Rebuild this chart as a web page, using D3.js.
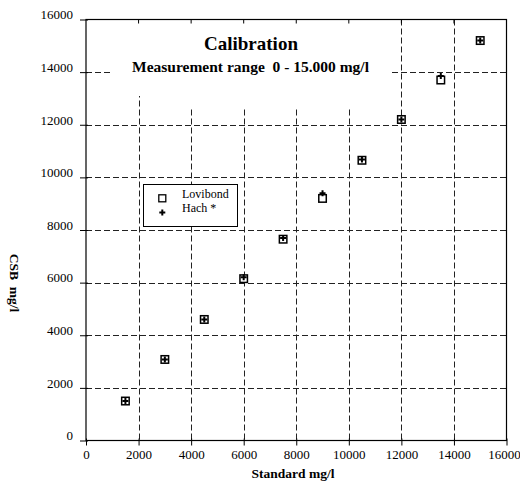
<!DOCTYPE html>
<html>
<head>
<meta charset="utf-8">
<script src="https://cdn.jsdelivr.net/npm/d3@7"></script>
<style>
  html, body { margin: 0; padding: 0; background: #fff; }
  svg { display: block; }
</style>
</head>
<body>
<svg id="chart" width="520" height="484"></svg>
<script>
// Calibration data: standard concentration vs. measured CSB (mg/l)
const standard = [1500, 3000, 4500, 6000, 7500, 9000, 10500, 12000, 13500, 15000];
const lovibond = [1500, 3080, 4600, 6150, 7650, 9200, 10650, 12200, 13700, 15200];
const hach     = [1500, 3080, 4600, 6200, 7700, 9400, 10680, 12200, 13850, 15200];
const xTicks = [0, 2000, 4000, 6000, 8000, 10000, 12000, 14000, 16000];
const yTicks = [0, 2000, 4000, 6000, 8000, 10000, 12000, 14000, 16000];
const gridValues = [2000, 4000, 6000, 8000, 10000, 12000, 14000];
const seriesNames = ["Lovibond", "Hach *"];
const titleText = "Calibration";
const subtitleText = "Measurement range  0 - 15.000 mg/l";
const xTitle = "Standard mg/l";
const yTitle = "CSB  mg/l";

const FONT = "'Liberation Serif'";
const svg = d3.select("#chart");
const plotL = 86, plotR = 506.5, plotT = 19.5, plotB = 440.5;

const x = d3.scaleLinear().domain([0, 16000]).range([plotL, plotR]);
const y = d3.scaleLinear().domain([0, 16000]).range([plotB, plotT]);

function serif(sel, size, weight) {
  return sel.style("font-family", FONT).style("font-size", size + "px")
    .style("font-weight", weight || "normal").style("white-space", "pre")
    .attr("fill", "#000");
}

// dashed grid
const grid = svg.append("g").attr("stroke", "#222").attr("stroke-width", 1)
  .attr("stroke-dasharray", "6,3");
grid.selectAll("line.v").data(gridValues).join("line").attr("class", "v")
  .attr("x1", d => Math.round(x(d)) + 0.5).attr("x2", d => Math.round(x(d)) + 0.5)
  .attr("y1", plotT).attr("y2", plotB);
grid.selectAll("line.h").data(gridValues).join("line").attr("class", "h")
  .attr("y1", d => Math.round(y(d)) + 0.5).attr("y2", d => Math.round(y(d)) + 0.5)
  .attr("x1", plotL).attr("x2", plotR);

// white panel behind the title
svg.append("path")
  .attr("d", "M112,20 L392,20 L392,107 L150,107 L150,96 L112,96 Z")
  .attr("fill", "#fff");

// frame
svg.append("rect")
  .attr("x", plotL).attr("y", plotT)
  .attr("width", plotR - plotL).attr("height", plotB - plotT)
  .attr("fill", "none").attr("stroke", "#000").attr("stroke-width", 1.2);

// axes
const xAxis = d3.axisBottom(x).tickValues(xTicks).tickSize(5).tickPadding(4)
  .tickFormat(d3.format("d"));
const gx = svg.append("g").attr("transform", `translate(0,${plotB})`).call(xAxis);
gx.select(".domain").remove();
gx.selectAll(".tick line").attr("y1", -2).attr("stroke", "#000");
serif(gx.selectAll(".tick text"), 13);
// keep the last label inside the page
gx.selectAll(".tick text").filter(d => d === 16000).attr("dx", -2.5);

const yAxis = d3.axisLeft(y).tickValues(yTicks).tickSize(6).tickPadding(7)
  .tickFormat(d3.format("d"));
const gy = svg.append("g").attr("transform", `translate(${plotL},0)`).call(yAxis);
gy.select(".domain").remove();
gy.selectAll(".tick line").attr("x1", 2).attr("stroke", "#000");
serif(gy.selectAll(".tick text"), 13).attr("dy", "-0.05em");

// small inward ticks along the top edge
svg.append("g").selectAll("line").data(xTicks.slice(1, -1)).join("line")
  .attr("x1", d => x(d)).attr("x2", d => x(d))
  .attr("y1", plotT).attr("y2", plotT + 4)
  .attr("stroke", "#000").attr("stroke-width", 1);

// markers
const squareSize = 7.5;
const crossPath = d3.symbol().type(d3.symbolCross).size(20)();

const pts = svg.append("g");
pts.selectAll("rect").data(standard).join("rect")
  .attr("x", d => x(d) - squareSize / 2)
  .attr("y", (d, i) => y(lovibond[i]) - squareSize / 2)
  .attr("width", squareSize).attr("height", squareSize)
  .attr("fill", "#fff").attr("stroke", "#000").attr("stroke-width", 1.5);
pts.selectAll("path").data(standard).join("path")
  .attr("d", crossPath)
  .attr("transform", (d, i) => `translate(${x(d)},${y(hach[i])})`)
  .attr("fill", "#000");

// legend
const lg = svg.append("g");
lg.append("rect")
  .attr("x", 143.5).attr("y", 184.5).attr("width", 94).attr("height", 42)
  .attr("fill", "#fff").attr("stroke", "#000").attr("stroke-width", 1);
lg.append("rect")
  .attr("x", 162.3 - 3.5).attr("y", 198.3 - 3.5).attr("width", 7).attr("height", 7)
  .attr("fill", "#fff").attr("stroke", "#000").attr("stroke-width", 1.3);
lg.append("path").attr("d", crossPath)
  .attr("transform", "translate(162.3,212.5)").attr("fill", "#000");
serif(lg.selectAll("text").data(seriesNames).join("text"), 12)
  .attr("x", 182).attr("y", (d, i) => 197.5 + i * 14)
  .text(d => d);

// titles
serif(svg.append("text"), 19, "bold").attr("x", 251).attr("y", 50)
  .attr("text-anchor", "middle").text(titleText);
serif(svg.append("text"), 15.5, "bold").attr("x", 250.5).attr("y", 72)
  .attr("text-anchor", "middle").text(subtitleText);

serif(svg.append("text"), 13.5, "bold").attr("x", 293).attr("y", 478)
  .attr("text-anchor", "middle").text(xTitle);
serif(svg.append("text"), 13.5, "bold").attr("transform", "translate(9.5,283) rotate(90)")
  .attr("text-anchor", "middle").text(yTitle);
</script>
</body>
</html>
